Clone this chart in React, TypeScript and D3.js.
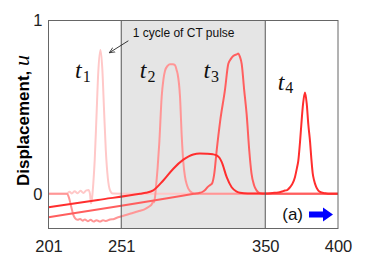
import { useEffect, useRef } from "react";
import * as d3 from "d3";

type Pt = [number, number];

// axis ticks and shaded window
const xTicks = [201, 251, 350, 400];
const yTicks = [0, 1];
const pulseWindow = [251, 350];

// displacement snapshots (position, u)
const t1: Pt[] = [
  [201, 0], [213.5, 0], [215.5, 0.012], [217, 0.002], [219, 0.015], [221, 0.003], [223, 0.018],
  [225, 0.005], [227, 0.02], [228.5, 0.022], [229.5, 0.0], [230.2, -0.055], [231, -0.02],
  [231.8, 0.06], [232.8, 0.2], [234, 0.45], [235.2, 0.7], [236.7, 0.83], [238, 0.72],
  [239.2, 0.48], [240.4, 0.25], [241.8, 0.09], [243.3, 0.02], [245, 0.002], [260, 0], [400, 0],
];

const t2: Pt[] = [
  [201, 0], [213.5, 0], [215, -0.02], [216.5, -0.07], [218, -0.12], [219.2, -0.14], [221, -0.15],
  [222.7, -0.145], [224.5, -0.155], [226, -0.148], [228, -0.158], [230, -0.15], [232, -0.16],
  [234, -0.152], [236.4, -0.16], [238.5, -0.152], [240.5, -0.157], [243.3, -0.148], [246, -0.145],
  [248, -0.138], [250.1, -0.132], [253, -0.125], [257, -0.115], [261, -0.105], [264, -0.098],
  [267.3, -0.088], [269, -0.08], [270.7, -0.07], [272, -0.06], [272.8, -0.045], [273.5, -0.05],
  [274.2, -0.02], [275, 0.05], [276, 0.15], [277.2, 0.3], [278.8, 0.56], [280, 0.66], [281.1, 0.71],
  [283, 0.74], [284.5, 0.748], [286.5, 0.748], [288, 0.742], [289.2, 0.71], [289.8, 0.69],
  [291.4, 0.56], [292.6, 0.33], [293.7, 0.18], [294.8, 0.1], [296.2, 0.05], [298.3, 0.015],
  [302, 0], [400, 0],
];

const t3: Pt[] = [
  [201, -0.135], [301, 0], [305.1, 0.006], [307, 0.012], [309, 0.025], [310.5, 0.04], [312, 0.05],
  [313.4, 0.06], [315, 0.12], [316.6, 0.25], [319, 0.42], [322.3, 0.6], [324.6, 0.75], [326.5, 0.78],
  [328, 0.795], [330.4, 0.805], [331.5, 0.81], [332.6, 0.79], [333.8, 0.75], [335.5, 0.6],
  [337.2, 0.46], [339, 0.25], [340.5, 0.12], [342.3, 0.05], [344, 0.02], [346.4, 0.003], [350, 0],
  [400, 0],
];

const t4: Pt[] = [
  [201, -0.077], [235, -0.035], [264, 0], [268, 0.006], [273, 0.02], [279.9, 0.077], [286.8, 0.145],
  [293.7, 0.197], [300.5, 0.227], [305, 0.232], [309.7, 0.231], [314, 0.228], [316.6, 0.222],
  [318.5, 0.208], [320.1, 0.183], [323.5, 0.096], [326.9, 0.038], [330.4, 0.013], [332.6, 0.006],
  [338, 0.002], [350, 0.002], [355, 0.005], [359, 0.008], [361, 0.012], [363.6, 0.019], [365, 0.022],
  [367, 0.038], [368.8, 0.06], [370.4, 0.096], [371.8, 0.15], [372.7, 0.19], [373.9, 0.3],
  [374.8, 0.4], [376, 0.52], [377.3, 0.585], [378.5, 0.52], [379.6, 0.4], [380.8, 0.3],
  [381.7, 0.2], [382.6, 0.12], [383.5, 0.08], [385, 0.04], [386.5, 0.019], [388.5, 0.008],
  [391.1, 0.003], [395, 0], [400, 0],
];

const snapshots = [t1, t2, t3, t4];
const snapshotColors = ["#ffc8c8", "#ff9696", "#ff5e5e", "#ff2e2e"];
const snapshotSubs = ["1", "2", "3", "4"];
// label anchors (position, u) for t_i
const labelX = [219.2, 263.8, 307.5, 358.5];
const labelY = [0.667, 0.667, 0.667, 0.6];

export default function App() {
  const svgRef = useRef<SVGSVGElement>(null);
  const width = 374;
  const height = 280;

  useEffect(() => {
    if (!svgRef.current) return;
    const svg = d3.select(svgRef.current);
    svg.selectAll("*").remove();

    const margin = { top: 20.5, right: 36, bottom: 51.5, left: 48.5 };
    const x = d3.scaleLinear().domain([201, 400]).range([margin.left, width - margin.right]);
    const y = d3.scaleLinear().domain([-0.2, 1]).range([height - margin.bottom, margin.top]);
    const sans = "'Liberation Sans', Arial, Helvetica, sans-serif";
    const serif = "'Liberation Serif', 'Times New Roman', serif";

    svg.append("rect").attr("x", 0).attr("y", 0).attr("width", width).attr("height", height).attr("fill", "#fff");

    // shaded CT pulse window
    svg.append("rect")
      .attr("x", x(pulseWindow[0]))
      .attr("y", y(1))
      .attr("width", x(pulseWindow[1]) - x(pulseWindow[0]))
      .attr("height", y(-0.2) - y(1))
      .attr("fill", "#e5e5e5");

    svg.append("defs").append("clipPath").attr("id", "plotclip")
      .append("rect")
      .attr("x", x(201)).attr("y", y(1))
      .attr("width", x(400) - x(201)).attr("height", y(-0.2) - y(1));

    const line = d3.line<Pt>().x(d => x(d[0])).y(d => y(d[1])).curve(d3.curveMonotoneX);

    const curves = svg.append("g").attr("clip-path", "url(#plotclip)");
    snapshots.forEach((s, i) => {
      curves.append("path")
        .datum(s)
        .attr("fill", "none")
        .attr("stroke", snapshotColors[i])
        .attr("stroke-width", 2)
        .attr("stroke-linejoin", "round")
        .attr("d", line);
    });

    // window edges
    pulseWindow.forEach(v => {
      svg.append("line")
        .attr("x1", x(v)).attr("x2", x(v))
        .attr("y1", y(1)).attr("y2", y(-0.2))
        .attr("stroke", "#555").attr("stroke-width", 1);
    });

    // frame
    svg.append("rect")
      .attr("x", x(201)).attr("y", y(1))
      .attr("width", x(400) - x(201)).attr("height", y(-0.2) - y(1))
      .attr("fill", "none").attr("stroke", "#666").attr("stroke-width", 1);

    // axes
    const gx = svg.append("g")
      .attr("transform", `translate(0,${y(-0.2)})`)
      .call(d3.axisBottom(x).tickValues(xTicks).tickSize(0).tickPadding(12).tickFormat(d3.format("d")));
    const gy = svg.append("g")
      .attr("transform", `translate(${x(201)},0)`)
      .call(d3.axisLeft(y).tickValues(yTicks).tickSize(0).tickPadding(6).tickFormat(d3.format("d")));
    [gx, gy].forEach(g => {
      g.select(".domain").remove();
      g.selectAll("text").attr("font-family", sans).attr("font-size", 16.5).attr("fill", "#222");
    });

    // y label
    const yl = svg.append("text")
      .attr("transform", `translate(29,${(y(1) + y(-0.2)) / 2 - 4}) rotate(-90)`)
      .attr("text-anchor", "middle")
      .attr("fill", "#000");
    yl.append("tspan").attr("font-family", sans).attr("font-weight", "bold").attr("font-size", 17).text("Displacement, ");
    yl.append("tspan").attr("font-family", serif).attr("font-style", "italic").attr("font-size", 22).text("u");

    // t labels
    snapshotSubs.forEach((sub, i) => {
      const t = svg.append("text")
        .attr("x", x(labelX[i]))
        .attr("y", y(labelY[i]))
        .attr("font-family", serif)
        .attr("fill", "#111");
      t.append("tspan").attr("font-style", "italic").attr("font-size", 24).text("t");
      t.append("tspan").attr("font-size", 16).attr("dy", 3.5).attr("dx", 1).text(sub);
    });

    // annotation
    svg.append("defs").append("marker")
      .attr("id", "arrowhead")
      .attr("viewBox", "0 0 10 10")
      .attr("refX", 9).attr("refY", 5)
      .attr("markerWidth", 7).attr("markerHeight", 7)
      .attr("orient", "auto")
      .append("path")
      .attr("d", "M0,1 L9,5 L0,9")
      .attr("fill", "none").attr("stroke", "#222").attr("stroke-width", 1.2);

    svg.append("line")
      .attr("x1", x(255.9)).attr("y1", y(0.883))
      .attr("x2", x(242.8)).attr("y2", y(0.814))
      .attr("stroke", "#222").attr("stroke-width", 0.9)
      .attr("marker-end", "url(#arrowhead)");

    svg.append("text")
      .attr("x", x(258.9)).attr("y", y(0.905))
      .attr("font-family", sans).attr("font-size", 12).attr("fill", "#111")
      .text("1 cycle of CT pulse");

    // (a) and propagation arrow
    const right = x(400);
    const bottom = y(-0.2);
    svg.append("text")
      .attr("x", right - 35).attr("y", bottom - 9)
      .attr("text-anchor", "end")
      .attr("font-family", sans).attr("font-size", 17).attr("fill", "#111")
      .text("(a)");
    const ay = bottom - 14;
    svg.append("path")
      .attr("d", `M${right - 29},${ay - 3} L${right - 15},${ay - 3} L${right - 15},${ay - 7} L${right - 5},${ay} L${right - 15},${ay + 7} L${right - 15},${ay + 3} L${right - 29},${ay + 3} Z`)
      .attr("fill", "#0000ff");
  }, []);

  return (
    <svg ref={svgRef} width={width} height={height} style={{ position: "absolute", left: 0, top: 0 }} />
  );
}
